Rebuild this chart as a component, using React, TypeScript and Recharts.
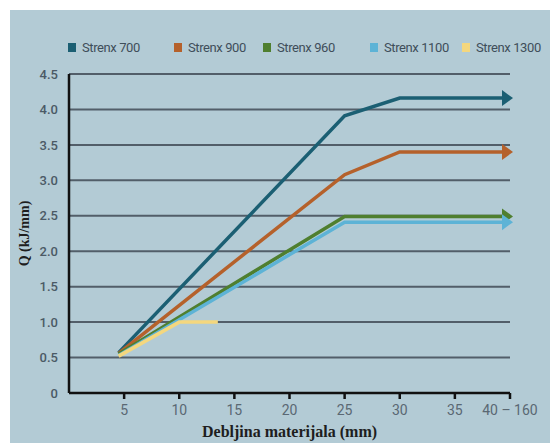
import React from 'react';
import { LineChart, Line, XAxis, YAxis, CartesianGrid, Label } from 'recharts';

const strenx700 = [
  { x: 4.5, y: 0.57 },
  { x: 25, y: 3.91 },
  { x: 30, y: 4.16 },
  { x: 40, y: 4.16 },
];
const strenx900 = [
  { x: 4.5, y: 0.56 },
  { x: 25, y: 3.08 },
  { x: 30, y: 3.4 },
  { x: 40, y: 3.4 },
];
const strenx960 = [
  { x: 4.5, y: 0.55 },
  { x: 25, y: 2.49 },
  { x: 40, y: 2.49 },
];
const strenx1100 = [
  { x: 4.5, y: 0.53 },
  { x: 25, y: 2.41 },
  { x: 40, y: 2.41 },
];
const strenx1300 = [
  { x: 4.5, y: 0.52 },
  { x: 10, y: 1.0 },
  { x: 13.5, y: 1.0 },
];
const xTicks = [5, 10, 15, 20, 25, 30, 35, 40];
const yTicks = [0, 0.5, 1, 1.5, 2, 2.5, 3, 3.5, 4, 4.5];
const seriesNames = ['Strenx 700', 'Strenx 900', 'Strenx 960', 'Strenx 1100', 'Strenx 1300'];
const colors = ['#1b5f73', '#b5612b', '#4f7f2f', '#5db3d6', '#f4d77e'];

const seriesData = [strenx700, strenx900, strenx960, strenx1100, strenx1300];
const hasArrow = [true, true, true, true, false];
const legendLeft = [68, 174, 263, 370, 462];

const makeArrowDot = (data: { x: number; y: number }[], color: string, arrow: boolean) => (props: any) => {
  const { cx, cy, index } = props;
  if (!arrow || index !== data.length - 1 || cx == null) return <g key={`d${index}`} />;
  return (
    <polygon
      key={`d${index}`}
      points={`${cx - 8},${cy - 8} ${cx + 3},${cy} ${cx - 8},${cy + 8}`}
      fill={color}
    />
  );
};

export default function App() {
  return (
    <div style={{ position: 'absolute', left: 0, top: 0, width: 550, height: 443, background: '#ffffff', overflow: 'hidden' }}>
      <div style={{ position: 'absolute', left: 10, top: 10, width: 540, height: 433, background: '#b3cbd5' }} />
      {seriesNames.map((n, i) => (
        <div
          key={n}
          style={{
            position: 'absolute',
            left: legendLeft[i],
            top: 40,
            display: 'flex',
            alignItems: 'center',
            fontFamily: 'Roboto, "Open Sans", sans-serif',
            fontSize: 13,
            letterSpacing: -0.4,
            color: '#3f4e5a',
            whiteSpace: 'nowrap',
          }}
        >
          <div style={{ width: 8, height: 9, background: colors[i], marginRight: 6 }} />
          <span>{n}</span>
        </div>
      ))}
      <div style={{ position: 'absolute', left: 0, top: 0 }}>
        <LineChart width={550} height={443} margin={{ top: 74, right: 40, bottom: 20, left: 0 }}>
          <CartesianGrid horizontal={true} vertical={false} stroke="#47525d" strokeWidth={2} strokeOpacity={0.9} />
          <XAxis
            type="number"
            dataKey="x"
            domain={[0, 40]}
            ticks={xTicks}
            allowDuplicatedCategory={false}
            height={30}
            axisLine={{ stroke: '#111', strokeWidth: 2.5 }}
            tickLine={{ stroke: '#111', strokeWidth: 2.5 }}
            tickSize={6}
            tickMargin={6}
            tick={{ fill: '#5a6873', fontSize: 14, fontFamily: 'Roboto, sans-serif' }}
            tickFormatter={(v: number) => (v === 40 ? '40 – 160' : String(v))}
          >
            <Label
              value="Debljina materijala (mm)"
              position="insideBottom"
              offset={-14}
              style={{ fill: '#1e1e1e', fontSize: 16, fontFamily: '"Liberation Serif", serif', fontWeight: 600 }}
            />
          </XAxis>
          <YAxis
            type="number"
            domain={[0, 4.5]}
            ticks={yTicks}
            width={69}
            axisLine={{ stroke: '#111', strokeWidth: 2.5 }}
            tickLine={false}
            tickMargin={5}
            tick={{ fill: '#4b5a66', fontSize: 13, fontFamily: 'Roboto, sans-serif', fontWeight: 500 }}
            tickFormatter={(v: number) => (v === 0 ? '0' : v.toFixed(1))}
          >
            <Label
              value="Q (kJ/mm)"
              angle={-90}
              position="insideLeft"
              offset={24}
              style={{ fill: '#1e1e1e', fontSize: 14, fontFamily: '"Liberation Serif", serif', fontWeight: 700, textAnchor: 'middle' }}
            />
          </YAxis>
          {seriesData.map((d, i) => (
            <Line
              key={seriesNames[i]}
              data={d}
              dataKey="y"
              name={seriesNames[i]}
              type="linear"
              stroke={colors[i]}
              strokeWidth={3.5}
              dot={makeArrowDot(d, colors[i], hasArrow[i])}
              activeDot={false}
              isAnimationActive={false}
            />
          ))}
        </LineChart>
      </div>
    </div>
  );
}
